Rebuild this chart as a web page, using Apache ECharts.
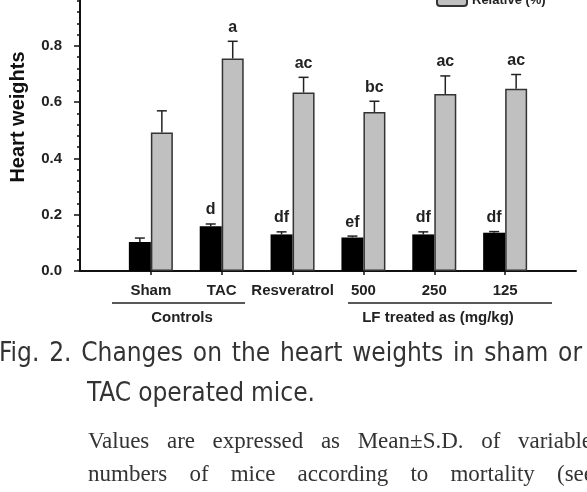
<!DOCTYPE html>
<html>
<head>
<meta charset="utf-8">
<script src="https://cdn.jsdelivr.net/npm/echarts@6/dist/echarts.min.js"></script>
<style>
  html, body { margin: 0; padding: 0; background: #fff; }
  #chart { width: 587px; height: 492px; }
</style>
</head>
<body>
<div id="chart"></div>
<script>
const categories = ["Sham", "TAC", "Resveratrol", "500", "250", "125"];
const absMean = [0.103, 0.159, 0.130, 0.119, 0.130, 0.136];
const absSD = [0.014, 0.008, 0.009, 0.005, 0.009, 0.004];
const relMean = [0.492, 0.755, 0.634, 0.565, 0.629, 0.647];
const relSD = [0.077, 0.061, 0.054, 0.038, 0.064, 0.051];
const absLetters = ["", "d", "df", "ef", "df", "df"];
const relLetters = ["", "a", "ac", "bc", "ac", "ac"];
const captionLines = [
  "Fig. 2. Changes on the heart weights in sham or",
  "TAC operated mice.",
  "Values are expressed as Mean±S.D. of variable",
  "numbers of mice according to mortality (see"
];

const xPos = categories.map((c, i) => i + 1);
const BAR_W = 22;
const LABEL_FONT = "bold 15px 'Liberation Sans', Arial, sans-serif";

const chart = echarts.init(document.getElementById("chart"));

// custom error bar + significance letter
function errorBars(offset, letters) {
  return function (params, api) {
    const x = api.value(0), m = api.value(1), sd = api.value(2);
    const base = api.coord([x, m]);
    const top = api.coord([x, m + sd]);
    const cx = base[0] + offset;
    const st = { stroke: "#222", lineWidth: 1.5 };
    return {
      type: "group",
      children: [
        { type: "line", shape: { x1: cx, y1: base[1], x2: cx, y2: top[1] }, style: st },
        { type: "line", shape: { x1: cx - 5, y1: top[1], x2: cx + 5, y2: top[1] }, style: st },
        {
          type: "text",
          style: {
            text: letters[params.dataIndex], x: cx, y: top[1] - 14,
            align: "center", verticalAlign: "middle", font: "bold 16px 'Liberation Sans', Arial, sans-serif", fill: "#222"
          }
        }
      ]
    };
  };
}

// spread words of a caption line between x0 and x1 (justified)
const measureCtx = document.createElement("canvas").getContext("2d");
function justify(text, x0, x1, y, font, color) {
  const words = text.split(" ");
  measureCtx.font = font;
  const widths = words.map((w) => measureCtx.measureText(w).width);
  const total = widths.reduce((a, b) => a + b, 0);
  const gap = words.length > 1 ? (x1 - x0 - total) / (words.length - 1) : 0;
  let x = x0;
  return words.map((w, i) => {
    const el = {
      type: "text", left: x, top: y,
      style: { text: w, font: font, fill: color, verticalAlign: "middle" }
    };
    x += widths[i] + gap;
    return el;
  });
}

const sansCap = "26px 'Liberation Sans Narrow', 'DejaVu Sans Condensed', sans-serif";
const serifCap = "23px 'Liberation Serif', 'DejaVu Serif', serif";

const graphics = [
  {
    type: "text", x: 18, y: 117, rotation: Math.PI / 2,
    style: {
      text: "Heart weights", font: "bold 20px 'Liberation Sans', Arial, sans-serif",
      fill: "#111", align: "center", verticalAlign: "middle"
    }
  },
  { type: "line", shape: { x1: 112, y1: 303, x2: 245, y2: 303 }, style: { stroke: "#222", lineWidth: 1.5 } },
  { type: "line", shape: { x1: 348, y1: 303, x2: 552, y2: 303 }, style: { stroke: "#222", lineWidth: 1.5 } },
  {
    type: "text", x: 182, y: 318,
    style: { text: "Controls", font: LABEL_FONT, fill: "#222", align: "center", verticalAlign: "middle" }
  },
  {
    type: "text", x: 438, y: 318,
    style: { text: "LF treated as (mg/kg)", font: LABEL_FONT, fill: "#222", align: "center", verticalAlign: "middle" }
  }
]
  .concat(justify(captionLines[0], -1, 582, 341, sansCap, "#333"))
  .concat(justify(captionLines[1], 87, 315, 381, sansCap, "#333"))
  .concat(justify(captionLines[2], 88, 592, 430, serifCap, "#333"))
  .concat(justify(captionLines[3], 88, 594, 463, serifCap, "#333"));

chart.setOption({
  animation: false,
  backgroundColor: "#fff",
  textStyle: { fontFamily: "'Liberation Sans', Arial, sans-serif" },
  grid: { left: 80, right: 11, top: -10.5, bottom: 221, outerBoundsMode: "none", containLabel: false },
  legend: {
    data: ["Relative (%)"],
    left: 431, top: -12,
    itemWidth: 30, itemHeight: 12,
    textStyle: { fontSize: 13, fontWeight: "bold", color: "#222" }
  },
  xAxis: {
    type: "value",
    min: 0, max: 7, interval: 1,
    splitLine: { show: false },
    axisLine: { lineStyle: { color: "#111", width: 2 } },
    axisTick: { customValues: xPos, length: 4, lineStyle: { color: "#111", width: 1.5 } },
    axisLabel: {
      customValues: xPos,
      margin: 12,
      fontSize: 15, fontWeight: "bold", color: "#222",
      formatter: (v) => categories[Math.round(v) - 1] || ""
    }
  },
  yAxis: {
    type: "value",
    min: 0, max: 1.0, interval: 0.2,
    offset: 6,
    splitLine: { show: false },
    axisLine: { show: true, lineStyle: { color: "#111", width: 2 } },
    axisTick: { show: true, length: 6, lineStyle: { color: "#111", width: 1.5 } },
    minorTick: { show: true, splitNumber: 5, length: 3, lineStyle: { color: "#111", width: 1.5 } },
    axisLabel: {
      margin: 12, fontSize: 15, fontWeight: "bold", color: "#222",
      showMaxLabel: false,
      formatter: (v) => v.toFixed(1)
    }
  },
  series: [
    {
      name: "Absolute",
      type: "bar",
      barWidth: BAR_W,
      barGap: "0%",
      itemStyle: { color: "#000" },
      data: xPos.map((x, i) => [x, absMean[i]])
    },
    {
      name: "Relative (%)",
      type: "bar",
      barWidth: BAR_W,
      barGap: "0%",
      itemStyle: { color: "#c0c0c0", borderColor: "#333", borderWidth: 1.5 },
      data: xPos.map((x, i) => [x, relMean[i]])
    },
    {
      type: "custom",
      renderItem: errorBars(-BAR_W / 2, absLetters),
      data: xPos.map((x, i) => [x, absMean[i], absSD[i]]),
      z: 5
    },
    {
      type: "custom",
      renderItem: errorBars(BAR_W / 2, relLetters),
      data: xPos.map((x, i) => [x, relMean[i], relSD[i]]),
      z: 5
    }
  ],
  graphic: graphics
});
</script>
</body>
</html>
